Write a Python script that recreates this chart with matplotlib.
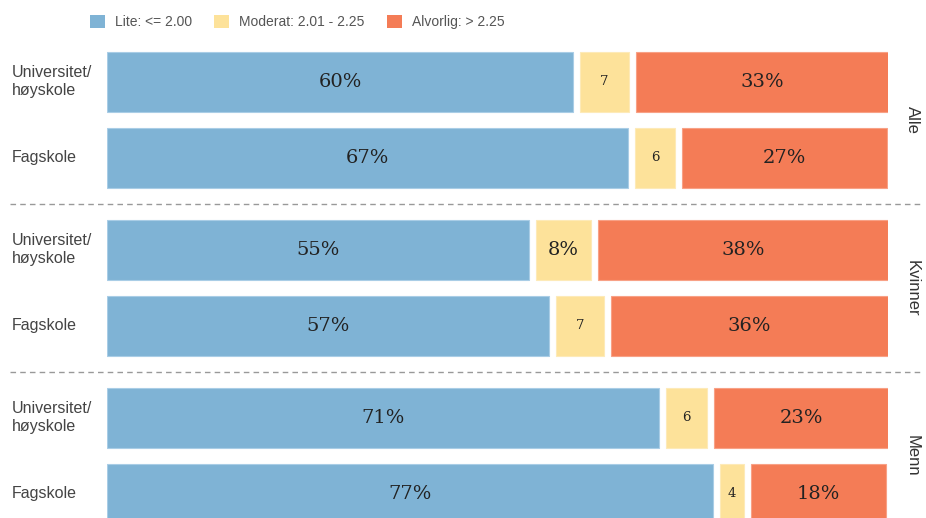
import matplotlib.pyplot as plt
from matplotlib.patches import Patch

# data
rows = ["Universitet/\nhøyskole", "Fagskole"] * 3
groups = ["Alle", "Kvinner", "Menn"]
# widths (%)
lite = [60.8, 67.9, 55.0, 57.6, 72.0, 79.0]
moderat = [6.3, 5.3, 7.2, 6.3, 5.3, 3.1]
alvorlig = [33.0, 26.7, 37.8, 36.1, 22.7, 17.7]
# printed labels
lite_lbl = ["60%", "67%", "55%", "57%", "71%", "77%"]
moderat_lbl = ["7", "6", "8%", "7", "6", "4"]
alvorlig_lbl = ["33%", "27%", "38%", "36%", "23%", "18%"]
legend_lbl = ["Lite: <= 2.00", "Moderat: 2.01 - 2.25", "Alvorlig: > 2.25"]

colors = ["#7fb3d5", "#fde29a", "#f47c56"]
edges = ["#a9cde6", "#fdeab8", "#f8a186"]

W, H = 926, 518
fig = plt.figure(figsize=(W / 100, H / 100), dpi=100)
ax = fig.add_axes([107 / W, 0, 781 / W, 474 / H])

gap = 0.91
extra = 16 / 76
ypos = []
for i in range(6):
    ypos.append(i + extra * (i // 2))
bh = 60 / 76

sans = ["Liberation Sans", "DejaVu Sans"]
serif = ["DejaVu Serif"]

for i, y in enumerate(ypos):
    left = 0
    segs = [(lite[i], lite_lbl[i]), (moderat[i], moderat_lbl[i]), (alvorlig[i], alvorlig_lbl[i])]
    for k, (v, lbl) in enumerate(segs):
        ax.barh(y, v, left=left, height=bh, color=colors[k], edgecolor=edges[k], linewidth=0.8)
        small = "%" not in lbl
        ax.text(left + v / 2, y, lbl, ha="center", va="center",
                fontsize=9.5 if small else 14, color="#222", family=serif)
        left += v + gap
    ax.text(-95 / 781 * (100 + 2 * gap), y, rows[i], ha="left", va="center",
            fontsize=11.5, color="#444", family=sans, linespacing=1.25)

total = 100 + 2 * gap
ax.set_xlim(0, total)
ax.set_ylim(5.737, -0.5)
ax.axis("off")

# facet separators and labels
for g in range(3):
    yc = (ypos[2 * g] + ypos[2 * g + 1]) / 2
    ax.text(total * (912 - 107) / 781, yc, groups[g], rotation=-90,
            ha="center", va="center", fontsize=12, color="#333", family=sans)
    if g < 2:
        ysep = (ypos[2 * g + 1] + ypos[2 * g + 2]) / 2
        ax.axhline(ysep, xmin=-97 / 781, xmax=815 / 781, clip_on=False,
                   color="#999", linestyle=(0, (4, 3)), linewidth=1)

handles = [Patch(facecolor=c, edgecolor="none") for c in colors]
fig.legend(handles, legend_lbl, loc="center", bbox_to_anchor=(297 / W, 1 - 22 / H),
           ncol=3, frameon=False, handlelength=1.1, handleheight=1.1,
           handletextpad=0.7, columnspacing=1.6,
           prop={"family": sans, "size": 10}, labelcolor="#555")

fig.savefig("out.png", dpi=100)
